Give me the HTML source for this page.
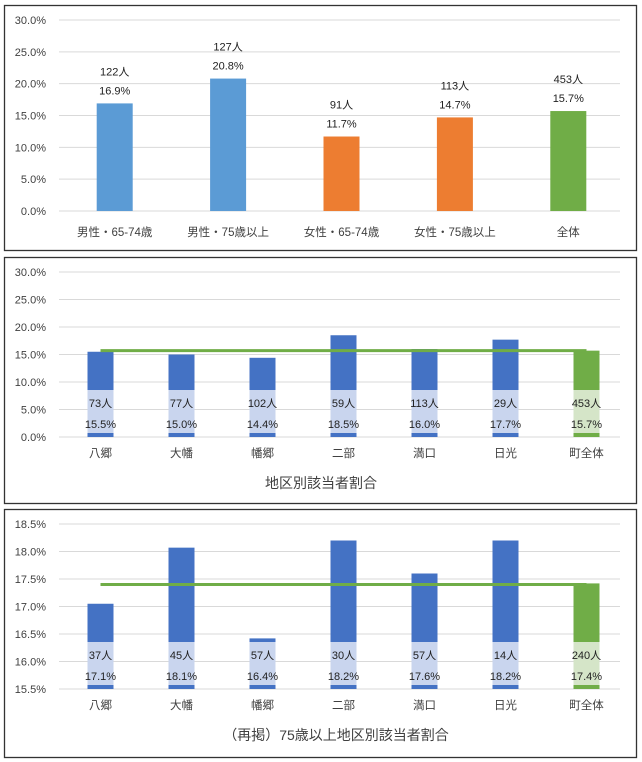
<!DOCTYPE html>
<html><head><meta charset="utf-8"><style>
body{margin:0;background:#fff;width:642px;height:762px;overflow:hidden}
svg{display:block;font-family:"Liberation Sans","Noto Sans CJK JP",sans-serif}
</style></head><body>
<svg id="c" width="642" height="762"></svg>
<script>
// Chart 1
const cats1=["男性・65-74歳","男性・75歳以上","女性・65-74歳","女性・75歳以上","全体"];
const vals1=[16.9,20.8,11.7,14.7,15.7];
const counts1=["122人","127人","91人","113人","453人"];
const colors1=["#5B9BD5","#5B9BD5","#ED7D31","#ED7D31","#70AD47"];
const ticks1=[0,5,10,15,20,25,30];
// Chart 2
const cats2=["八郷","大幡","幡郷","二部","満口","日光","町全体"];
const vals2=[15.5,15.0,14.4,18.5,16.0,17.7,15.7];
const counts2=["73人","77人","102人","59人","113人","29人","453人"];
const ticks2=[0,5,10,15,20,25,30];
const avg2=15.7;
// Chart 3
const cats3=["八郷","大幡","幡郷","二部","満口","日光","町全体"];
const vals3=[17.05,18.07,16.42,18.2,17.6,18.2,17.42];
const pcts3=["17.1%","18.1%","16.4%","18.2%","17.6%","18.2%","17.4%"];
const counts3=["37人","45人","57人","30人","57人","14人","240人"];
const ticks3=[15.5,16.0,16.5,17.0,17.5,18.0,18.5];
const avg3=17.4;

const svg=document.getElementById('c');
const NS="http://www.w3.org/2000/svg";
function mk(tag,attrs,name,text){const e=document.createElementNS(NS,tag);for(const k in attrs)e.setAttribute(k,attrs[k]);


if(text!==undefined)e.textContent=text;svg.appendChild(e);return e;}

function frame(y0,h,name){mk('rect',{x:4.5,y:y0+.5,width:632,height:h,fill:'#fff',stroke:'#333','stroke-width':1.3},name);}
function axis(ticks,y,x0,x1,name,dec){ticks.forEach(t=>{const yy=y(t);
mk('line',{x1:x0,x2:x1,y1:yy,y2:yy,stroke:'#d9d9d9','stroke-width':1},name+'-gridline');
mk('text',{x:46,y:yy+4,'text-anchor':'end','font-size':11,fill:'#404040'},name+'-tick-label',t.toFixed(1)+'%');});}

// ---- Chart 1
frame(5,245,'chart1-frame');
const y1=v=>211-v/30*191;
axis(ticks1,y1,59,620,'chart1');
const bw1=113.4;
cats1.forEach((c,i)=>{const cx=58+bw1*(i+0.5);
mk('rect',{x:cx-18,y:y1(vals1[i]),width:36,height:y1(0)-y1(vals1[i]),fill:colors1[i]},'chart1-bar');
mk('text',{x:cx,y:y1(vals1[i])-9,'text-anchor':'middle','font-size':11,fill:'#222'},'chart1-pct-label',vals1[i].toFixed(1)+'%');
mk('text',{x:cx,y:y1(vals1[i])-28,'text-anchor':'middle','font-size':11,fill:'#222'},'chart1-count-label',counts1[i]);
mk('text',{x:cx,y:236,'text-anchor':'middle','font-size':11.5,fill:'#404040'},'chart1-category-label',c);});

function regional(cats,vals,pcts,counts,ticks,avg,y,top,bot,title,prefix,tx){
 axis(ticks,y,59,620,prefix);
 const step=81,x0=60;
 const lightTop=bot-47;
 cats.forEach((c,i)=>{const cx=x0+step*(i+0.5);const last=i===cats.length-1;
  const dark=last?'#70AD47':'#4472C4',light=last?'#D5E5C8':'#C9D5EE';
  mk('rect',{x:cx-13,y:y(vals[i]),width:26,height:bot-y(vals[i]),fill:dark},prefix+'-bar');
  mk('rect',{x:cx-13,y:lightTop,width:26,height:bot-4-lightTop,fill:light},prefix+'-label-band');
  mk('text',{x:cx,y:bot-30,'text-anchor':'middle','font-size':11,fill:'#222'},prefix+'-count-label',counts[i]);
  mk('text',{x:cx,y:bot-9,'text-anchor':'middle','font-size':11,fill:'#222'},prefix+'-pct-label',pcts[i]);
  mk('text',{x:cx,y:bot+20,'text-anchor':'middle','font-size':11.5,fill:'#404040'},prefix+'-category-label',c);});
 mk('line',{x1:x0+step*0.5,x2:x0+step*(cats.length-0.5),y1:y(avg),y2:y(avg),stroke:'#70AD47','stroke-width':3},prefix+'-average-line');
 mk('text',{x:tx,y:bot+51,'text-anchor':'middle','font-size':14,fill:'#404040'},prefix+'-title',title);
}
// ---- Chart 2
frame(257,246,'chart2-frame');
const y2=v=>437-v/30*165;
regional(cats2,vals2,vals2.map(v=>v.toFixed(1)+'%'),counts2,ticks2,avg2,y2,272,437,'地区別該当者割合','chart2',321);
// ---- Chart 3
frame(509,248,'chart3-frame');
const y3=v=>689-(v-15.5)/3*165;
regional(cats3,vals3,pcts3,counts3,ticks3,avg3,y3,524,689,'（再掲）75歳以上地区別該当者割合','chart3',336);
</script>
</body></html>
